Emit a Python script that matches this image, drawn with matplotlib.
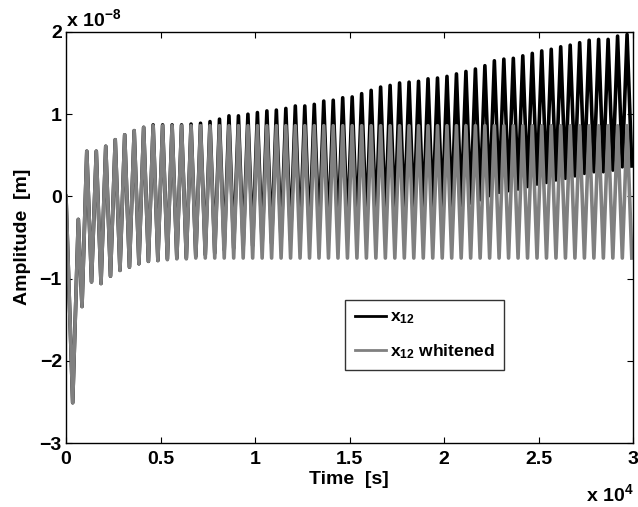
import numpy as np
import matplotlib
matplotlib.use("Agg")
import matplotlib.pyplot as plt

plt.rcParams['font.family'] = ['Liberation Sans', 'DejaVu Sans']
plt.rcParams['mathtext.fontset'] = 'custom'
plt.rcParams['mathtext.rm'] = 'Liberation Sans:bold'
plt.rcParams['mathtext.bf'] = 'Liberation Sans:bold'
plt.rcParams['mathtext.it'] = 'Liberation Sans:bold'

# ---------------- data (values in units of 1e-8 m, time in s) ----------------
# irregular start of the signal (time, value) — same for both series
start_times = [0, 354, 651, 847]
start_values = [0.0, -2.51, -0.28, -1.34]

# regular oscillation: peak k at first_peak + k*period, trough k half a period later
first_peak_time = 1100.0
period = 501.5

grey_peaks = [0.55, 0.55, 0.61, 0.69, 0.75, 0.80, 0.84, 0.86, 0.86, 0.86,
              0.86, 0.86, 0.86, 0.86, 0.86, 0.86, 0.86, 0.86, 0.86, 0.86,
              0.86, 0.86, 0.86, 0.86, 0.86, 0.86, 0.86, 0.86, 0.86, 0.86,
              0.86, 0.86, 0.86, 0.86, 0.86, 0.86, 0.86, 0.86, 0.86, 0.86,
              0.86, 0.86, 0.86, 0.86, 0.86, 0.86, 0.86, 0.86, 0.86, 0.86,
              0.86, 0.86, 0.86, 0.86, 0.86, 0.86, 0.86, 0.86]
grey_troughs = [-1.04, -1.06, -0.97, -0.90, -0.86, -0.82, -0.79, -0.78, -0.77, -0.76,
                -0.76, -0.75, -0.75, -0.75, -0.75, -0.75, -0.75, -0.75, -0.75, -0.75,
                -0.75, -0.75, -0.75, -0.75, -0.75, -0.75, -0.75, -0.75, -0.75, -0.75,
                -0.75, -0.75, -0.75, -0.75, -0.75, -0.75, -0.75, -0.75, -0.75, -0.75,
                -0.75, -0.75, -0.75, -0.75, -0.75, -0.75, -0.75, -0.75, -0.75, -0.75,
                -0.75, -0.75, -0.75, -0.75, -0.75, -0.75, -0.75, -0.75]

black_peaks = [0.55, 0.55, 0.61, 0.69, 0.75, 0.80, 0.84, 0.87, 0.87, 0.87,
               0.87, 0.88, 0.89, 0.91, 0.94, 0.98, 0.98, 1.00, 1.02, 1.04,
               1.05, 1.07, 1.10, 1.10, 1.12, 1.16, 1.17, 1.20, 1.21, 1.25,
               1.29, 1.33, 1.35, 1.38, 1.39, 1.40, 1.43, 1.44, 1.46, 1.49,
               1.52, 1.55, 1.59, 1.65, 1.67, 1.68, 1.71, 1.74, 1.77, 1.79,
               1.82, 1.84, 1.87, 1.90, 1.91, 1.91, 1.95, 1.97]
black_troughs = [-1.04, -1.06, -0.97, -0.90, -0.86, -0.82, -0.79, -0.78, -0.76, -0.75,
                 -0.75, -0.73, -0.71, -0.69, -0.65, -0.63, -0.62, -0.60, -0.58, -0.57,
                 -0.55, -0.53, -0.51, -0.50, -0.47, -0.45, -0.43, -0.41, -0.38, -0.34,
                 -0.30, -0.27, -0.25, -0.23, -0.22, -0.20, -0.18, -0.16, -0.14, -0.11,
                 -0.08, -0.04, 0.01, 0.05, 0.07, 0.09, 0.12, 0.15, 0.17, 0.20,
                 0.22, 0.25, 0.28, 0.30, 0.30, 0.32, 0.36, 0.37]

y_ticks = [-3, -2, -1, 0, 1, 2]
x_ticks = [0, 0.5, 1, 1.5, 2, 2.5, 3]   # x 1e4 s
legend_labels = [r'x$_{12}$', r'x$_{12}$ whitened']


def build(peaks, troughs):
    t = list(start_times)
    v = list(start_values)
    for k, (p, q) in enumerate(zip(peaks, troughs)):
        tp = first_peak_time + k * period
        t += [tp, tp + period / 2]
        v += [p, q]
    return np.array(t), np.array(v)


tb, vb = build(black_peaks, black_troughs)
tg, vg = build(grey_peaks, grey_troughs)

W, H = 638, 507
fig = plt.figure(figsize=(W / 100, H / 100), dpi=100)
ax = fig.add_axes([66 / W, 1 - 443 / H, (633 - 66) / W, (443 - 32) / H])

LW = 2.6
ax.plot(tb / 1e4, vb, color='black', lw=LW, label=legend_labels[0])
ax.plot(tg / 1e4, vg, color='#808080', lw=LW, label=legend_labels[1])

FS = 14
ax.set_xlim(0, 3)
ax.set_ylim(-3, 2)
ax.set_xticks(x_ticks)
ax.set_yticks(y_ticks)
ax.set_xticklabels(['0', '0.5', '1', '1.5', '2', '2.5', '3'])
ax.set_yticklabels(['\u22123', '\u22122', '\u22121', '0', '1', '2'])
ax.tick_params(direction='in', length=4, width=0.8, top=True, right=True,
               labelsize=FS)
ax.tick_params(axis='x', pad=6)
ax.tick_params(axis='y', pad=3)
for lab in ax.get_xticklabels() + ax.get_yticklabels():
    lab.set_fontweight('bold')
for s in ax.spines.values():
    s.set_linewidth(1.0)

fig.text(349 / W, 1 - 480 / H, 'Time  [s]', ha='center', va='center',
         fontsize=FS, fontweight='bold')
fig.text(23 / W, 1 - 237 / H, 'Amplitude  [m]', ha='center', va='center',
         rotation=90, fontsize=FS, fontweight='bold')
fig.text(66 / W, 1 - 26 / H, r'x 10$^{-8}$', ha='left', va='baseline',
         fontsize=FS, fontweight='bold')
fig.text(634 / W, 1 - 501 / H, r'x 10$^{4}$', ha='right', va='baseline',
         fontsize=FS, fontweight='bold')

leg = ax.legend(loc='upper left', bbox_to_anchor=((345 - 66) / 567, (443 - 300) / 411),
                borderaxespad=0, frameon=True, fancybox=False, edgecolor='black',
                prop={'weight': 'bold', 'size': 12.5}, handlelength=1.8,
                handletextpad=0.25, borderpad=0.55, labelspacing=0.9)
leg.get_frame().set_linewidth(1.0)
for line in leg.get_lines():
    line.set_linewidth(2.0)

fig.savefig('out.png', dpi=100)
